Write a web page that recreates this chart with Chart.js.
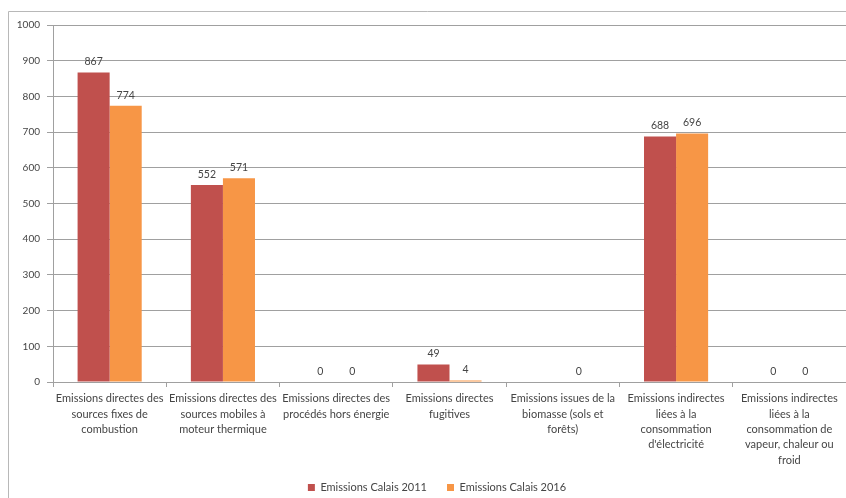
<!DOCTYPE html>
<html>
<head>
<meta charset="utf-8">
<script src="https://cdn.jsdelivr.net/npm/chart.js@4"></script>
<style>
  html, body { margin: 0; padding: 0; background: #fff; overflow: hidden; }
  #wrap { width: 846px; height: 503px; position: relative; }
</style>
</head>
<body>
<div id="wrap"><canvas id="emissionsChart"></canvas></div>
<script>
const categories = [
  ['Emissions directes des', 'sources fixes de', 'combustion'],
  ['Emissions directes des', 'sources mobiles à', 'moteur thermique'],
  ['Emissions directes des', 'procédés hors énergie'],
  ['Emissions directes', 'fugitives'],
  ['Emissions issues de la', 'biomasse (sols et', 'forêts)'],
  ['Emissions indirectes', 'liées à la', 'consommation', "d'électricité"],
  ['Emissions indirectes', 'liées à la', 'consommation de', 'vapeur, chaleur ou', 'froid']
];
const seriesNames = ['Emissions Calais 2011', 'Emissions Calais 2016'];
const values2011 = [867, 552, 0, 49, null, 688, 0];
const values2016 = [774, 571, 0, 4, 0, 696, 0];
const yTicks = [0, 100, 200, 300, 400, 500, 600, 700, 800, 900, 1000];

const textColor = '#454545';
const gridColor = '#a0a0a0';

// white background and the outer frame
const framePlugin = {
  id: 'frame',
  beforeDraw(chart) {
    const ctx = chart.ctx;
    ctx.save();
    ctx.fillStyle = '#fff';
    ctx.fillRect(0, 0, chart.width, chart.height);
    ctx.strokeStyle = '#b8b8b8';
    ctx.lineWidth = 1;
    ctx.beginPath();
    ctx.moveTo(8.5, chart.height);
    ctx.lineTo(8.5, 11.5);
    ctx.lineTo(chart.width, 11.5);
    ctx.stroke();
    ctx.restore();
  }
};

// the last category label has 5 lines, let the x labels run past the axis box;
// legend sits a bit right of centre in the original
const layoutTweaks = {
  id: 'layoutTweaks',
  afterLayout(chart) {
    chart.scales.x.bottom += 20;
    chart.legend.left += 14;
    chart.legend.right += 14;
  }
};

// value labels above bars
const valueLabels = {
  id: 'valueLabels',
  afterDatasetsDraw(chart) {
    const ctx = chart.ctx;
    ctx.save();
    ctx.font = '10.5px Lato';
    ctx.fillStyle = textColor;
    ctx.textAlign = 'center';
    ctx.textBaseline = 'middle';
    chart.data.datasets.forEach((ds, i) => {
      chart.getDatasetMeta(i).data.forEach((bar, j) => {
        const v = ds.data[j];
        if (v === null || v === undefined) return;
        ctx.fillText(String(v), bar.x, bar.y - 10.5);
      });
    });
    ctx.restore();
  }
};

new Chart(document.getElementById('emissionsChart'), {
  type: 'bar',
  data: {
    labels: categories,
    datasets: [{
      label: seriesNames[0],
      data: values2011,
      backgroundColor: '#c0504d',
      categoryPercentage: 0.566,
      barPercentage: 1
    }, {
      label: seriesNames[1],
      data: values2016,
      backgroundColor: '#f79646',
      categoryPercentage: 0.566,
      barPercentage: 1
    }]
  },
  options: {
    responsive: true,
    maintainAspectRatio: false,
    animation: false,
    layout: { padding: { top: 25, left: 0, right: 0, bottom: 0 } },
    plugins: {
      legend: {
        position: 'bottom',
        labels: {
          boxWidth: 7,
          boxHeight: 7,
          padding: 20,
          color: textColor,
          font: { family: 'Lato', size: 11 }
        }
      },
      tooltip: { enabled: false }
    },
    scales: {
      x: {
        grid: {
          offset: true,
          drawOnChartArea: false,
          tickLength: 5,
          color: gridColor
        },
        border: { color: gridColor },
        ticks: {
          color: textColor,
          font: { family: 'Lato', size: 11, lineHeight: 1.4 },
          padding: 4,
          maxRotation: 0,
          autoSkip: false
        },
        afterFit(scale) { scale.height = 80; }
      },
      y: {
        min: 0,
        max: 1000,
        afterBuildTicks(scale) { scale.ticks = yTicks.map(v => ({ value: v })); },
        grid: { color: gridColor, tickLength: 6 },
        border: { color: gridColor },
        ticks: {
          color: textColor,
          font: { family: 'Lato', size: 10 },
          padding: 7,
          callback: v => String(v)
        },
        afterFit(scale) { scale.width = 53; }
      }
    }
  },
  plugins: [framePlugin, layoutTweaks, valueLabels]
});
</script>
</body>
</html>
